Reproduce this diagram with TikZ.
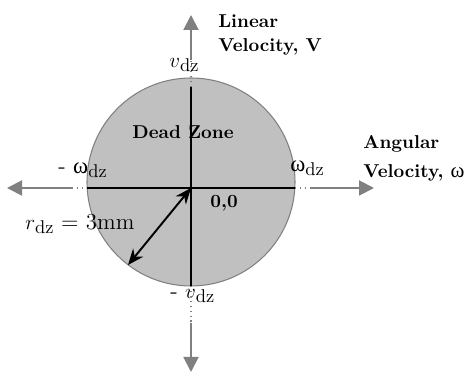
\documentclass[tikz,border=0pt]{standalone}
\usepackage{fontspec}
\newfontfamily\grkfont{Liberation Serif}
\usetikzlibrary{arrows.meta}
\definecolor{zonegray}{HTML}{C0C0C0}
\definecolor{axisgray}{HTML}{808080}
\newcommand{\dzidx}{\raisebox{-0.4ex}{\fontsize{10.5}{10.5}\selectfont dz}}

\begin{document}
\begin{tikzpicture}[>={Triangle[length=0.3cm,width=0.3cm]},
  axis/.style={axisgray,line width=1.1pt},
  axisdots/.style={axisgray,line width=0.8pt,dotted},
  zeroline/.style={black,line width=1.1pt},
  lbl/.style={inner sep=0pt,font=\fontsize{13}{15}\selectfont},
  head/.style={inner sep=0pt,font=\fontsize{10.6}{14.2}\bfseries\selectfont,align=left}]
  \useasboundingbox (0,0) rectangle (9.44,7.46);
  % dead zone disc
  \coordinate (C) at (3.82,3.82);
  \fill[zonegray,draw=axisgray,line width=0.6pt] (C) circle (2.08);
  % points along the axes
  \coordinate (O)  at (3.82,3.70);
  \coordinate (vt) at (3.82,7.16);
  \coordinate (vg) at (3.82,6.26);
  \coordinate (vz) at (3.82,5.72);
  \coordinate (vn) at (3.82,1.74);
  \coordinate (vh) at (3.82,1.00);
  \coordinate (vb) at (3.82,0.02);
  \coordinate (wl) at (0.14,3.70);
  \coordinate (wg) at (1.44,3.70);
  \coordinate (wz) at (1.74,3.70);
  \coordinate (wp) at (5.90,3.70);
  \coordinate (wh) at (6.20,3.70);
  \coordinate (wr) at (7.48,3.70);
  \coordinate (R)  at (2.56,2.16);
  % linear velocity axis
  \draw[axis,->] (vg) -- (vt);
  \draw[axisdots] (vz) -- (vg);
  \draw[zeroline] (vz) -- (vn);
  \draw[axisdots] (vn) -- (vh);
  \draw[axis,->] (vh) -- (vb);
  % angular velocity axis
  \draw[axis,->] (wg) -- (wl);
  \draw[axisdots] (wg) -- (wz);
  \draw[zeroline] (wz) -- (wp);
  \draw[axisdots] (wp) -- (wh);
  \draw[axis,->] (wh) -- (wr);
  % radius
  \draw[black,line width=1.1pt,{Stealth[length=0.32cm,width=0.26cm]}-{Stealth[length=0.32cm,width=0.26cm]}] (O) -- (R);
  % labels
  \node[head,anchor=base west] (linv) at (4.36,6.42) {Linear\\Velocity, V};
  \node[head,anchor=base west] (angv) at (7.26,3.90) {Angular\\[2.8pt]Velocity, {\grkfont\mdseries\fontsize{12}{12}\selectfont ω}};
  \node[head,anchor=base west] (dz) at (2.64,4.68) {Dead Zone};
  \node[head,anchor=base west] (org) at (4.20,3.30) {0,0};
  \node[lbl,anchor=base west] (vpos) at (3.38,6.10) {$v$\dzidx};
  \node[lbl,anchor=base west] (vneg) at (3.40,1.48) {- $v$\dzidx};
  \node[lbl,anchor=base west] (wneg) at (1.16,3.98) {- {\grkfont ω}\dzidx};
  \node[lbl,anchor=base west] (wpos) at (5.80,4.02) {{\grkfont ω}\dzidx};
  \node[lbl,anchor=base west] (rad) at (0.50,2.86) {$r$\dzidx{} = 3mm};
\end{tikzpicture}
\end{document}
